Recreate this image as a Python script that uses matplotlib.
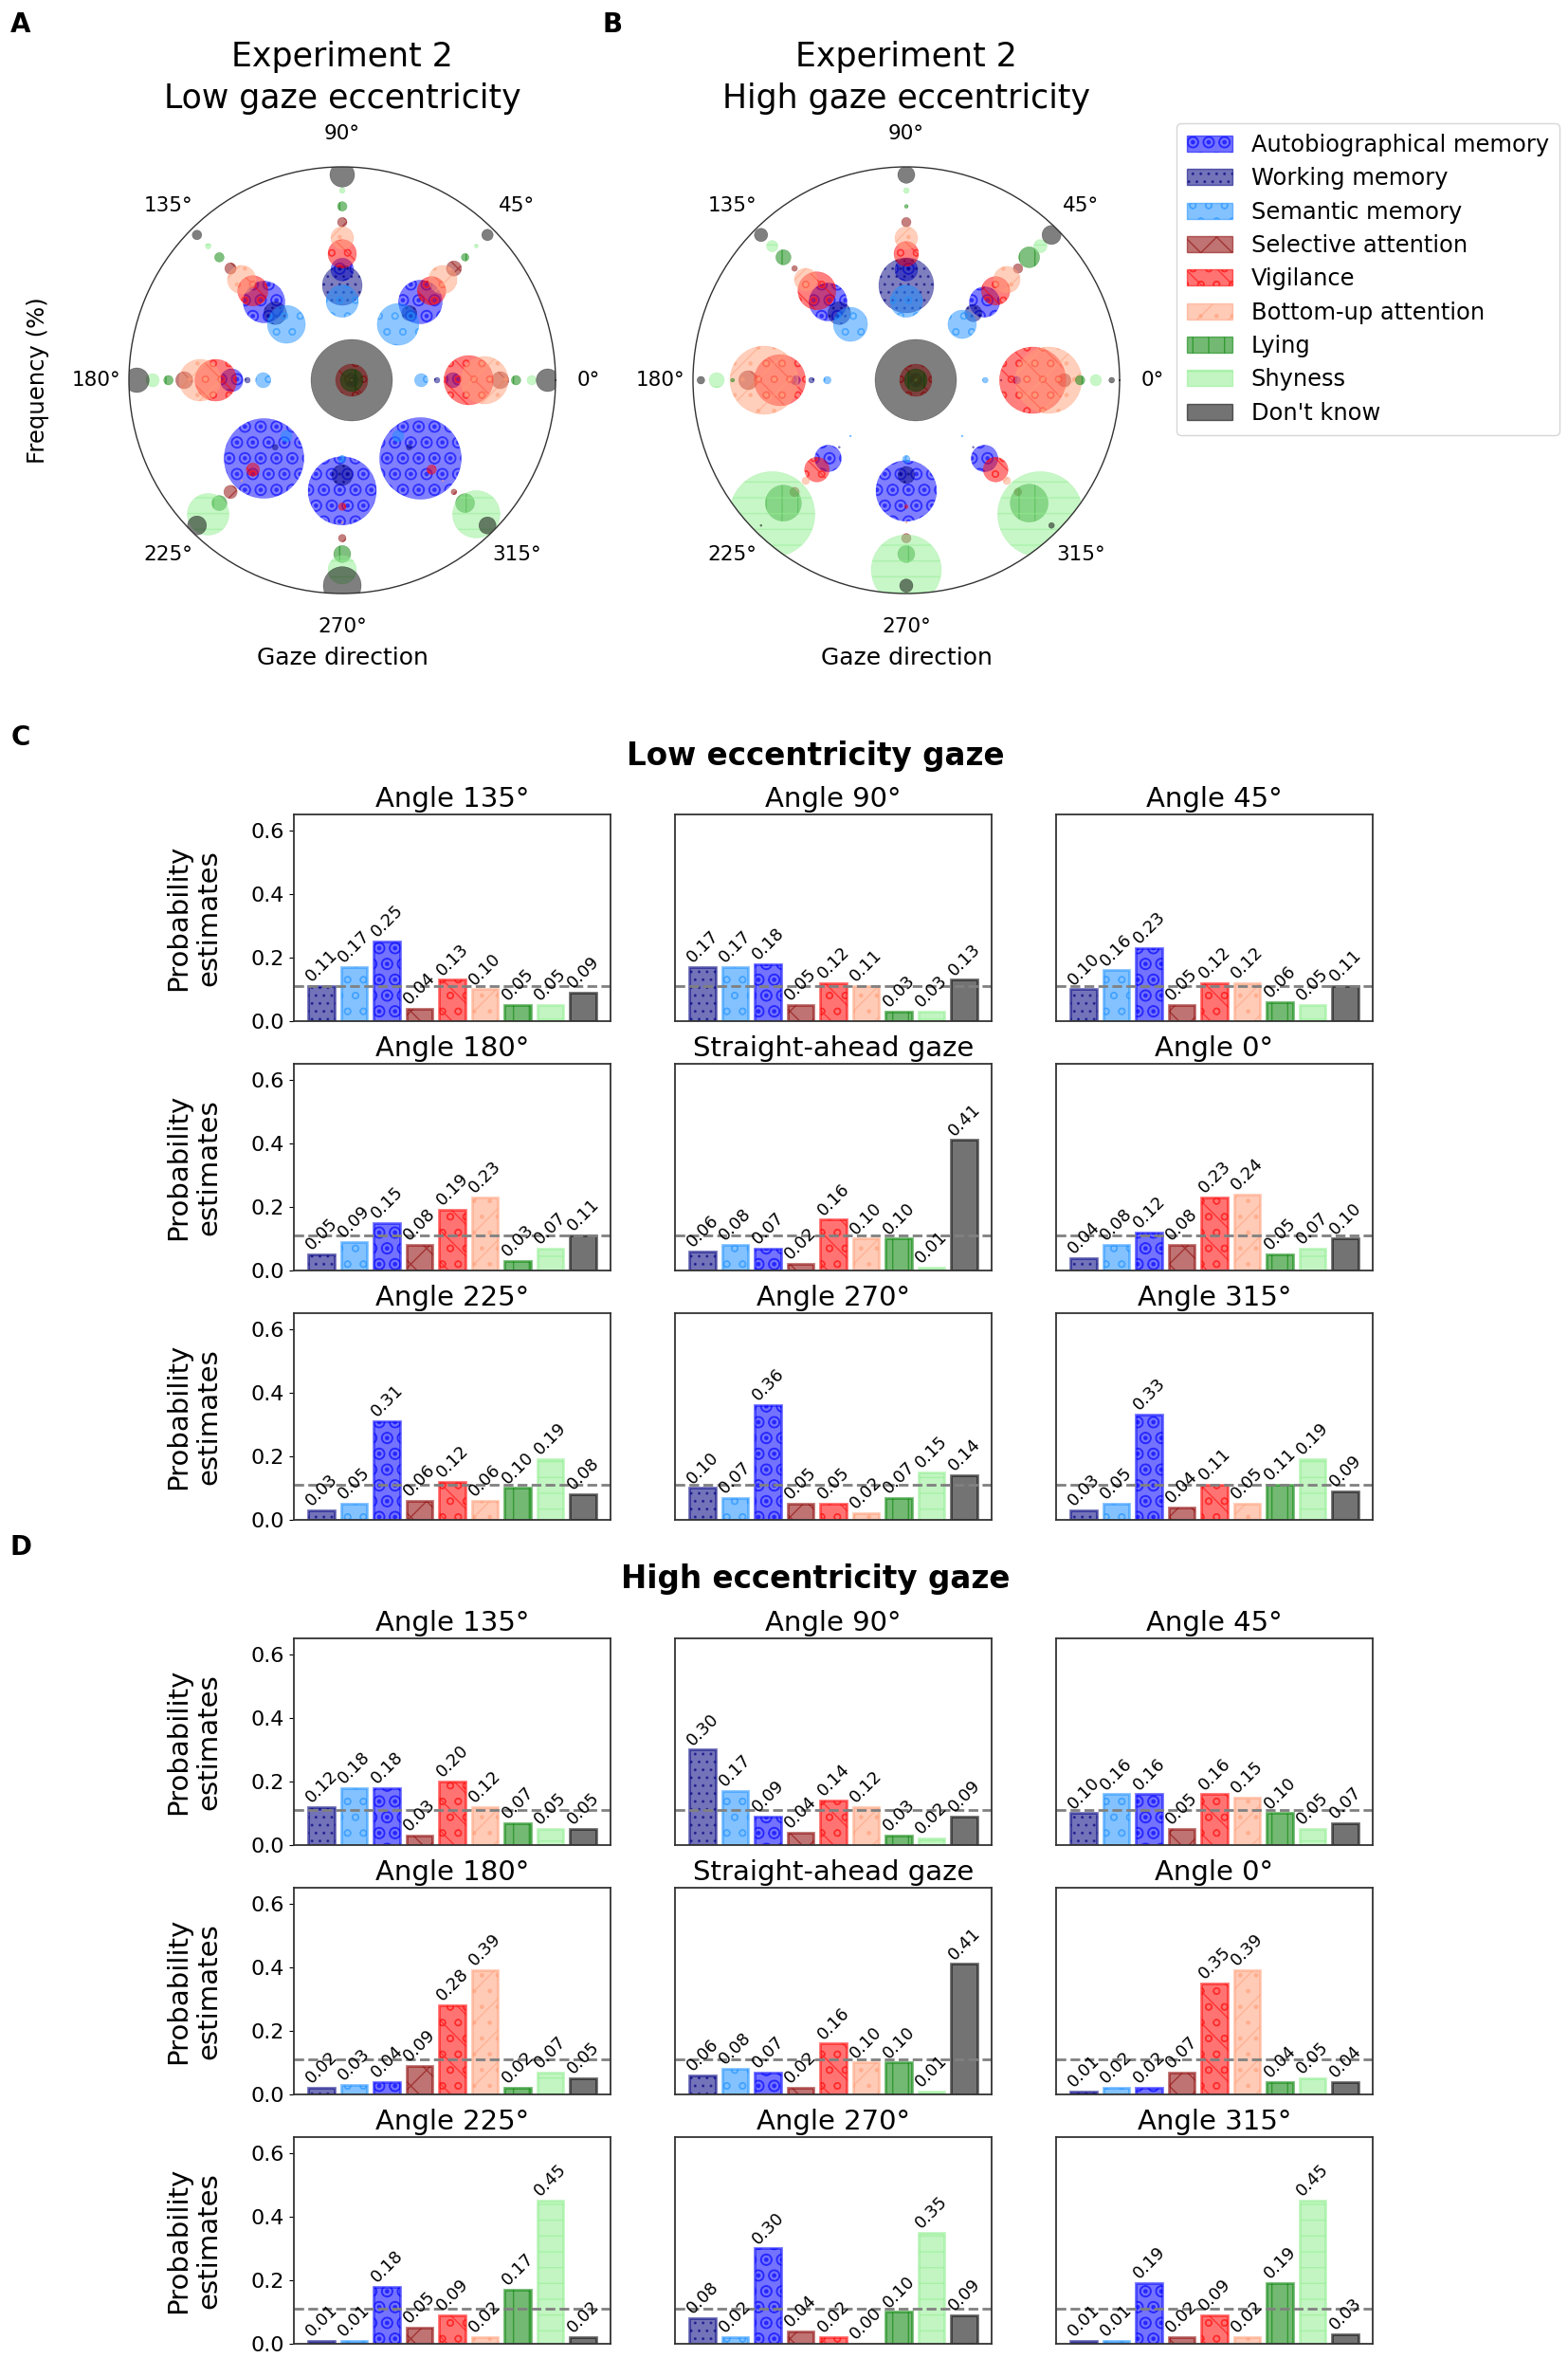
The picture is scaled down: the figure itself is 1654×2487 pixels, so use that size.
import numpy as np
import matplotlib
matplotlib.use("Agg")
import matplotlib.pyplot as plt
from matplotlib.patches import Patch

# categories in the order of the bars
categories = ['Working memory', 'Semantic memory', 'Autobiographical memory',
              'Selective attention', 'Vigilance', 'Bottom-up attention',
              'Lying', 'Shyness', "Don't know"]
legend_order = ['Autobiographical memory', 'Working memory', 'Semantic memory',
                'Selective attention', 'Vigilance', 'Bottom-up attention',
                'Lying', 'Shyness', "Don't know"]
# order of the bubbles along a ray, from the centre outwards
ray_order = ['Semantic memory', 'Working memory', 'Autobiographical memory',
             'Vigilance', 'Bottom-up attention', 'Selective attention',
             'Lying', 'Shyness', "Don't know"]

panel_titles = ['Angle 135°', 'Angle 90°', 'Angle 45°',
                'Angle 180°', 'Straight-ahead gaze', 'Angle 0°',
                'Angle 225°', 'Angle 270°', 'Angle 315°']
panel_angles = [135, 90, 45, 180, None, 0, 225, 270, 315]
theta_ticks = [0, 45, 90, 135, 180, 225, 270, 315]

# ---- probability estimates (bar panels)
# low eccentricity gaze
low_135 = [0.11, 0.17, 0.25, 0.04, 0.13, 0.10, 0.05, 0.05, 0.09]
low_90 = [0.17, 0.17, 0.18, 0.05, 0.12, 0.11, 0.03, 0.03, 0.13]
low_45 = [0.10, 0.16, 0.23, 0.05, 0.12, 0.12, 0.06, 0.05, 0.11]
low_180 = [0.05, 0.09, 0.15, 0.08, 0.19, 0.23, 0.03, 0.07, 0.11]
low_straight = [0.06, 0.08, 0.07, 0.02, 0.16, 0.10, 0.10, 0.01, 0.41]
low_0 = [0.04, 0.08, 0.12, 0.08, 0.23, 0.24, 0.05, 0.07, 0.10]
low_225 = [0.03, 0.05, 0.31, 0.06, 0.12, 0.06, 0.10, 0.19, 0.08]
low_270 = [0.10, 0.07, 0.36, 0.05, 0.05, 0.02, 0.07, 0.15, 0.14]
low_315 = [0.03, 0.05, 0.33, 0.04, 0.11, 0.05, 0.11, 0.19, 0.09]

# high eccentricity gaze
high_135 = [0.12, 0.18, 0.18, 0.03, 0.20, 0.12, 0.07, 0.05, 0.05]
high_90 = [0.30, 0.17, 0.09, 0.04, 0.14, 0.12, 0.03, 0.02, 0.09]
high_45 = [0.10, 0.16, 0.16, 0.05, 0.16, 0.15, 0.10, 0.05, 0.07]
high_180 = [0.02, 0.03, 0.04, 0.09, 0.28, 0.39, 0.02, 0.07, 0.05]
high_straight = [0.06, 0.08, 0.07, 0.02, 0.16, 0.10, 0.10, 0.01, 0.41]
high_0 = [0.01, 0.02, 0.02, 0.07, 0.35, 0.39, 0.04, 0.05, 0.04]
high_225 = [0.01, 0.01, 0.18, 0.05, 0.09, 0.02, 0.17, 0.45, 0.02]
high_270 = [0.08, 0.02, 0.30, 0.04, 0.02, 0.00, 0.10, 0.35, 0.09]
high_315 = [0.01, 0.01, 0.19, 0.02, 0.09, 0.02, 0.19, 0.45, 0.03]

low = [low_135, low_90, low_45, low_180, low_straight, low_0, low_225, low_270, low_315]
high = [high_135, high_90, high_45, high_180, high_straight, high_0, high_225, high_270, high_315]

# ---- observed frequencies (bubble plots), same category order
freq_low_135 = [0.12, 0.20, 0.22, 0.06, 0.16, 0.15, 0.05, 0.03, 0.05]
freq_low_90 = [0.21, 0.17, 0.12, 0.05, 0.15, 0.12, 0.05, 0.03, 0.13]
freq_low_45 = [0.08, 0.22, 0.23, 0.08, 0.15, 0.15, 0.04, 0.02, 0.06]
freq_low_180 = [0.03, 0.08, 0.12, 0.09, 0.22, 0.22, 0.05, 0.07, 0.13]
freq_low_straight = [0.06, 0.08, 0.07, 0.02, 0.17, 0.10, 0.12, 0.01, 0.43]
freq_low_0 = [0.03, 0.07, 0.08, 0.09, 0.26, 0.25, 0.05, 0.05, 0.12]
freq_low_225 = [0.03, 0.06, 0.42, 0.07, 0.07, 0.01, 0.08, 0.22, 0.10]
freq_low_270 = [0.11, 0.04, 0.36, 0.04, 0.04, 0.01, 0.09, 0.15, 0.20]
freq_low_315 = [0.03, 0.06, 0.43, 0.03, 0.05, 0.01, 0.10, 0.25, 0.09]

freq_high_135 = [0.12, 0.18, 0.20, 0.03, 0.20, 0.12, 0.08, 0.06, 0.07]
freq_high_90 = [0.29, 0.17, 0.12, 0.05, 0.13, 0.12, 0.02, 0.03, 0.09]
freq_high_45 = [0.09, 0.15, 0.16, 0.05, 0.15, 0.14, 0.11, 0.07, 0.10]
freq_high_180 = [0.03, 0.04, 0.05, 0.10, 0.27, 0.36, 0.02, 0.08, 0.04]
freq_high_straight = [0.06, 0.08, 0.07, 0.02, 0.17, 0.10, 0.12, 0.01, 0.43]
freq_high_0 = [0.01, 0.03, 0.04, 0.07, 0.35, 0.35, 0.05, 0.06, 0.03]
freq_high_225 = [0.01, 0.01, 0.14, 0.05, 0.13, 0.04, 0.19, 0.45, 0.01]
freq_high_270 = [0.09, 0.04, 0.32, 0.05, 0.02, 0.01, 0.09, 0.37, 0.07]
freq_high_315 = [0.01, 0.01, 0.14, 0.04, 0.13, 0.04, 0.20, 0.45, 0.03]

freq_low = [freq_low_135, freq_low_90, freq_low_45, freq_low_180, freq_low_straight,
            freq_low_0, freq_low_225, freq_low_270, freq_low_315]
freq_high = [freq_high_135, freq_high_90, freq_high_45, freq_high_180, freq_high_straight,
             freq_high_0, freq_high_225, freq_high_270, freq_high_315]

colors = {'Working memory': 'navy', 'Semantic memory': 'dodgerblue',
          'Autobiographical memory': 'blue', 'Selective attention': 'darkred',
          'Vigilance': 'red', 'Bottom-up attention': 'lightsalmon',
          'Lying': 'green', 'Shyness': 'lightgreen', "Don't know": 'black'}
hatches = {'Working memory': '..', 'Semantic memory': 'o',
           'Autobiographical memory': 'O.', 'Selective attention': 'x',
           'Vigilance': 'o\\', 'Bottom-up attention': '/.',
           'Lying': '|', 'Shyness': '-', "Don't know": ''}
ALPHA = 0.55
chance = 1 / 9

W, H, DPI = 1654, 2487, 100
fig = plt.figure(figsize=(W / DPI, H / DPI), dpi=DPI)


def px_axes(left, top, w, h, **kw):
    return fig.add_axes([left / W, 1 - (top + h) / H, w / W, h / H], **kw)


# ---- polar bubble plots (A, B)
polar_titles = ['Experiment 2\nLow gaze eccentricity', 'Experiment 2\nHigh gaze eccentricity']
for i, (data, title, left) in enumerate(zip([freq_low, freq_high], polar_titles, [136, 731])):
    ax = px_axes(left, 176, 450, 450, projection='polar')
    for cat in legend_order:
        j = categories.index(cat)
        th, rr, ss = [], [], []
        for a, freqs in zip(panel_angles, data):
            v = freqs[j]
            if v <= 0:
                continue
            if a is None:
                th.append(0.0)
                rr.append(0.6)
            else:
                th.append(np.deg2rad(a))
                rr.append(ray_order.index(cat) + 5)
            ss.append((144 * v) ** 2)
        ax.scatter(th, rr, s=ss, color=colors[cat], edgecolors=colors[cat],
                   alpha=0.5, hatch=hatches[cat], linewidths=0.3)
    ax.set_ylim(0, 13.5)
    ax.set_yticks([])
    ax.set_xticks(np.deg2rad(theta_ticks))
    ax.set_xticklabels([f'{a}°' for a in theta_ticks], fontsize=15.5)
    ax.tick_params(axis='x', pad=18, length=0)
    ax.grid(False)
    ax.spines['polar'].set_color('#333333')
    ax.spines['polar'].set_linewidth(1.0)
    ax.set_title(title, fontsize=25, y=1.19, va='center', linespacing=1.35)
    ax.set_xlabel('Gaze direction', fontsize=18)
    ax.xaxis.set_label_coords(0.5, -0.125)
    if i == 0:
        ax.set_ylabel('Frequency (%)', fontsize=17.5)
        ax.yaxis.set_label_coords(-0.187, 0.5)

handles = [Patch(facecolor=colors[c], edgecolor=colors[c], alpha=ALPHA,
                 hatch=hatches[c], label=c) for c in legend_order]
fig.legend(handles=handles, loc='upper left',
           bbox_to_anchor=(1241 / W, 1 - 130 / H), fontsize=17.4,
           labelspacing=0.47, borderpad=0.45, borderaxespad=0)

# ---- bar panels (C, D)
x = np.arange(len(categories))
bar_cols = [colors[c] for c in categories]
row_tops = [[859, 1122, 1385], [1728, 1991, 2254]]
for data, tops in zip([low, high], row_tops):
    for k, (probs, ptitle) in enumerate(zip(data, panel_titles)):
        r, c = divmod(k, 3)
        ax = px_axes(310 + 402 * c, tops[r], 334, 218)
        bars = ax.bar(x, probs, width=0.8, color=bar_cols, edgecolor=bar_cols,
                      alpha=ALPHA, linewidth=2)
        for b, cat in zip(bars, categories):
            b.set_hatch(hatches[cat])
        for xi, v in zip(x, probs):
            ax.text(xi, v + 0.003, f'{v:.2f}', rotation=45, ha='center',
                    va='bottom', fontsize=13)
        ax.axhline(chance, color='gray', ls='--', lw=2)
        ax.set_ylim(0, 0.65)
        ax.set_xticks([])
        ax.set_title(ptitle, fontsize=21)
        for sp in ax.spines.values():
            sp.set_color('#333333')
            sp.set_linewidth(1.3)
        if c == 0:
            ax.set_yticks([0, 0.2, 0.4, 0.6])
            ax.tick_params(axis='y', labelsize=16)
            ax.set_ylabel('Probability\nestimates', fontsize=21, labelpad=22)
        else:
            ax.set_yticks([])

fig.text(860 / W, 1 - 797 / H, 'Low eccentricity gaze', ha='center', va='center',
         fontsize=23.5, fontweight='bold')
fig.text(860 / W, 1 - 1666 / H, 'High eccentricity gaze', ha='center', va='center',
         fontsize=23.5, fontweight='bold')

for letter, (lx, ly) in zip('ABCD', [(22, 26), (646, 26), (22, 778), (22, 1632)]):
    fig.text(lx / W, 1 - ly / H, letter, ha='center', va='center',
             fontsize=20, fontweight='bold')

fig.savefig('out.png', dpi=DPI)
